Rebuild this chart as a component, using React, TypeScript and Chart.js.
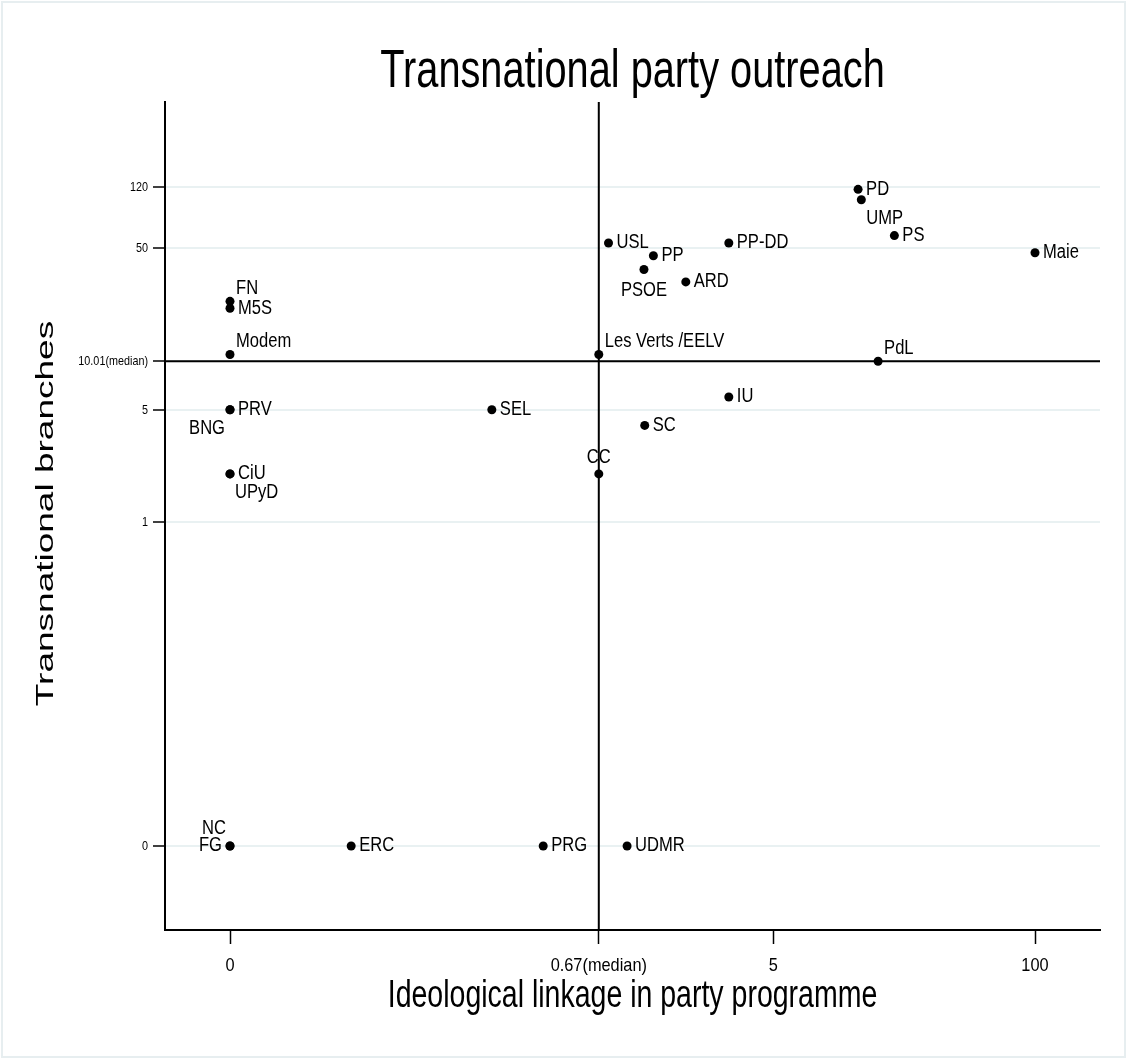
import React, { useEffect, useRef } from "react";
import { Chart, registerables } from "chart.js";

Chart.register(...registerables);

// ---- data ----
const PARTIES = [
  "PD", "UMP", "PS", "Maie", "PP-DD", "USL", "PP", "PSOE", "ARD",
  "Les Verts /EELV", "PdL", "IU", "SC", "SEL", "CC", "FN", "M5S", "Modem",
  "PRV", "BNG", "CiU", "UPyD", "NC", "FG", "ERC", "PRG", "UDMR",
];
const IDEOLOGICAL_LINKAGE = [
  13.2, 13.7, 20, 100, 3, 0.75, 1.26, 1.13, 1.83,
  0.67, 16.6, 3, 1.14, 0.19, 0.67, 0, 0, 0,
  0, 0, 0, 0, 0, 0, 0.03, 0.35, 0.93,
];
const TRANSNATIONAL_BRANCHES = [
  116, 100, 60, 47, 54, 54, 45, 37, 31,
  11, 10, 6, 4, 5, 2, 23.5, 21.3, 11,
  5, 5, 2, 2, 0, 0, 0, 0, 0,
];
// Stata-like marker label clock positions
const LABEL_POSITIONS = [
  3, 4, 3, 3, 3, 3, 3, 6, 3,
  1, 1, 3, 3, 3, 12, 1, 3, 1,
  3, 7, 3, 4, 11, 9, 3, 3, 3,
];
const X_MEDIAN = 0.67;
const Y_MEDIAN = 10.01;
const X_TICKS = [0, 0.67, 5, 100];
const X_TICK_LABELS = ["0", "0.67(median)", "5", "100"];
const Y_TICKS = [0, 1, 5, 10.01, 50, 120];
const Y_TICK_LABELS = ["0", "1", "5", "10.01(median)", "50", "120"];
const TITLE = "Transnational party outreach";
const X_TITLE = "Ideological linkage in party programme";
const Y_TITLE = "Transnational branches";

// axis transform: log10(v + 0.01) + 2
const tf = (v: number) => Math.log10(v + 0.01) + 2;

const FONT = '"Liberation Sans", Arial, Helvetica, sans-serif';

function drawText(
  ctx: CanvasRenderingContext2D,
  text: string,
  x: number,
  y: number,
  size: number,
  sx: number,
  align: CanvasTextAlign,
  baseline: CanvasTextBaseline,
  rotate = false
) {
  ctx.save();
  ctx.translate(x, y);
  ctx.scale(sx, 1);
  if (rotate) ctx.rotate(-Math.PI / 2);
  ctx.font = `${size}px ${FONT}`;
  ctx.fillStyle = "#000";
  ctx.textAlign = align;
  ctx.textBaseline = baseline;
  ctx.fillText(text, 0, 0);
  ctx.restore();
}

const backgroundPlugin = {
  id: "bgFrame",
  beforeDraw(chart: any) {
    const ctx = chart.ctx as CanvasRenderingContext2D;
    ctx.save();
    ctx.fillStyle = "#fff";
    ctx.fillRect(0, 0, chart.width, chart.height);
    ctx.strokeStyle = "#e7eef0";
    ctx.lineWidth = 2;
    ctx.strokeRect(2, 2, chart.width - 4, chart.height - 4);
    ctx.restore();
  },
};

const medianPlugin = {
  id: "medianLines",
  beforeDatasetsDraw(chart: any) {
    const ctx = chart.ctx as CanvasRenderingContext2D;
    const { left, right, top, bottom } = chart.chartArea;
    const xs = chart.scales.x;
    const ys = chart.scales.y;
    const px = xs.getPixelForValue(tf(X_MEDIAN));
    const py = ys.getPixelForValue(tf(Y_MEDIAN));
    ctx.save();
    ctx.strokeStyle = "#000";
    ctx.lineWidth = 2;
    ctx.beginPath();
    ctx.moveTo(left, py);
    ctx.lineTo(right, py);
    ctx.moveTo(px, top);
    ctx.lineTo(px, bottom);
    ctx.stroke();
    ctx.restore();
  },
};

const textPlugin = {
  id: "texts",
  afterDraw(chart: any) {
    const ctx = chart.ctx as CanvasRenderingContext2D;
    const xs = chart.scales.x;
    const ys = chart.scales.y;
    // title and axis titles
    drawText(ctx, TITLE, 632.5, 87, 53, 0.75, "center", "alphabetic");
    drawText(ctx, X_TITLE, 632.5, 1007, 38, 0.75, "center", "alphabetic");
    drawText(ctx, Y_TITLE, 53, 513.5, 37, 0.66, "center", "alphabetic", true);
    // tick labels
    Y_TICKS.forEach((v, i) => {
      drawText(ctx, Y_TICK_LABELS[i], 148, ys.getPixelForValue(tf(v)), 13.5, 0.8, "right", "middle");
    });
    X_TICKS.forEach((v, i) => {
      drawText(ctx, X_TICK_LABELS[i], xs.getPixelForValue(tf(v)), 971, 19, 0.86, "center", "alphabetic");
    });
    // marker labels
    const meta = chart.getDatasetMeta(0);
    meta.data.forEach((pt: any, i: number) => {
      const pos = LABEL_POSITIONS[i];
      const x = pt.x;
      const y = pt.y;
      const s = 19.5;
      const sx = 0.85;
      const t = PARTIES[i];
      switch (pos) {
        case 3:
          drawText(ctx, t, x + 8, y, s, sx, "left", "middle");
          break;
        case 9:
          drawText(ctx, t, x - 8, y, s, sx, "right", "middle");
          break;
        case 12:
          drawText(ctx, t, x, y - 16, s, sx, "center", "middle");
          break;
        case 6:
          drawText(ctx, t, x, y + 21, s, sx, "center", "middle");
          break;
        case 1:
          drawText(ctx, t, x + 6, y - 13, s, sx, "left", "middle");
          break;
        case 4:
          drawText(ctx, t, x + 5, y + 19, s, sx, "left", "middle");
          break;
        case 7:
          drawText(ctx, t, x - 5, y + 19, s, sx, "right", "middle");
          break;
        case 11:
          drawText(ctx, t, x - 4, y - 17, s, sx, "right", "middle");
          break;
      }
    });
  },
};

export default function App() {
  const ref = useRef<HTMLCanvasElement | null>(null);

  useEffect(() => {
    if (!ref.current) return;
    const points = PARTIES.map((_, i) => ({
      x: tf(IDEOLOGICAL_LINKAGE[i]),
      y: tf(TRANSNATIONAL_BRANCHES[i]),
    }));
    const chart = new Chart(ref.current, {
      type: "scatter",
      data: {
        datasets: [
          {
            label: "Parties",
            data: points,
            pointRadius: 4.5,
            pointHoverRadius: 4.5,
            backgroundColor: "#000",
            borderWidth: 0,
          },
        ],
      },
      options: {
        animation: false,
        responsive: false,
        devicePixelRatio: 1,
        layout: { padding: { left: 0, top: 102, right: 27, bottom: 0 } },
        plugins: {
          legend: { display: false },
          tooltip: { enabled: false },
          title: { display: false },
        },
        scales: {
          x: {
            type: "linear",
            min: -0.323,
            max: 4.323,
            afterBuildTicks: (s: any) => {
              s.ticks = X_TICKS.map((v) => ({ value: tf(v) }));
            },
            afterFit: (s: any) => {
              s.height = 129;
            },
            ticks: { display: false },
            grid: {
              drawOnChartArea: false,
              drawTicks: true,
              tickLength: 14,
              tickColor: "#000",
              tickWidth: 1.5,
            },
            border: { display: true, color: "#000", width: 2 },
          },
          y: {
            type: "linear",
            min: -0.52,
            max: 4.605,
            afterBuildTicks: (s: any) => {
              s.ticks = Y_TICKS.map((v) => ({ value: tf(v) }));
            },
            afterFit: (s: any) => {
              s.width = 165;
            },
            ticks: { display: false },
            grid: {
              color: "#e9f1f2",
              lineWidth: 2,
              drawTicks: true,
              tickLength: 12,
              tickColor: "#000",
              tickWidth: 1.5,
            },
            border: { display: true, color: "#000", width: 2 },
          },
        },
      },
      plugins: [backgroundPlugin, medianPlugin, textPlugin],
    });
    return () => chart.destroy();
  }, []);

  return (
    <div style={{ position: "absolute", left: 0, top: 0, width: 1127, height: 1059 }}>
      <canvas ref={ref} width={1127} height={1059} style={{ display: "block" }} />
    </div>
  );
}
